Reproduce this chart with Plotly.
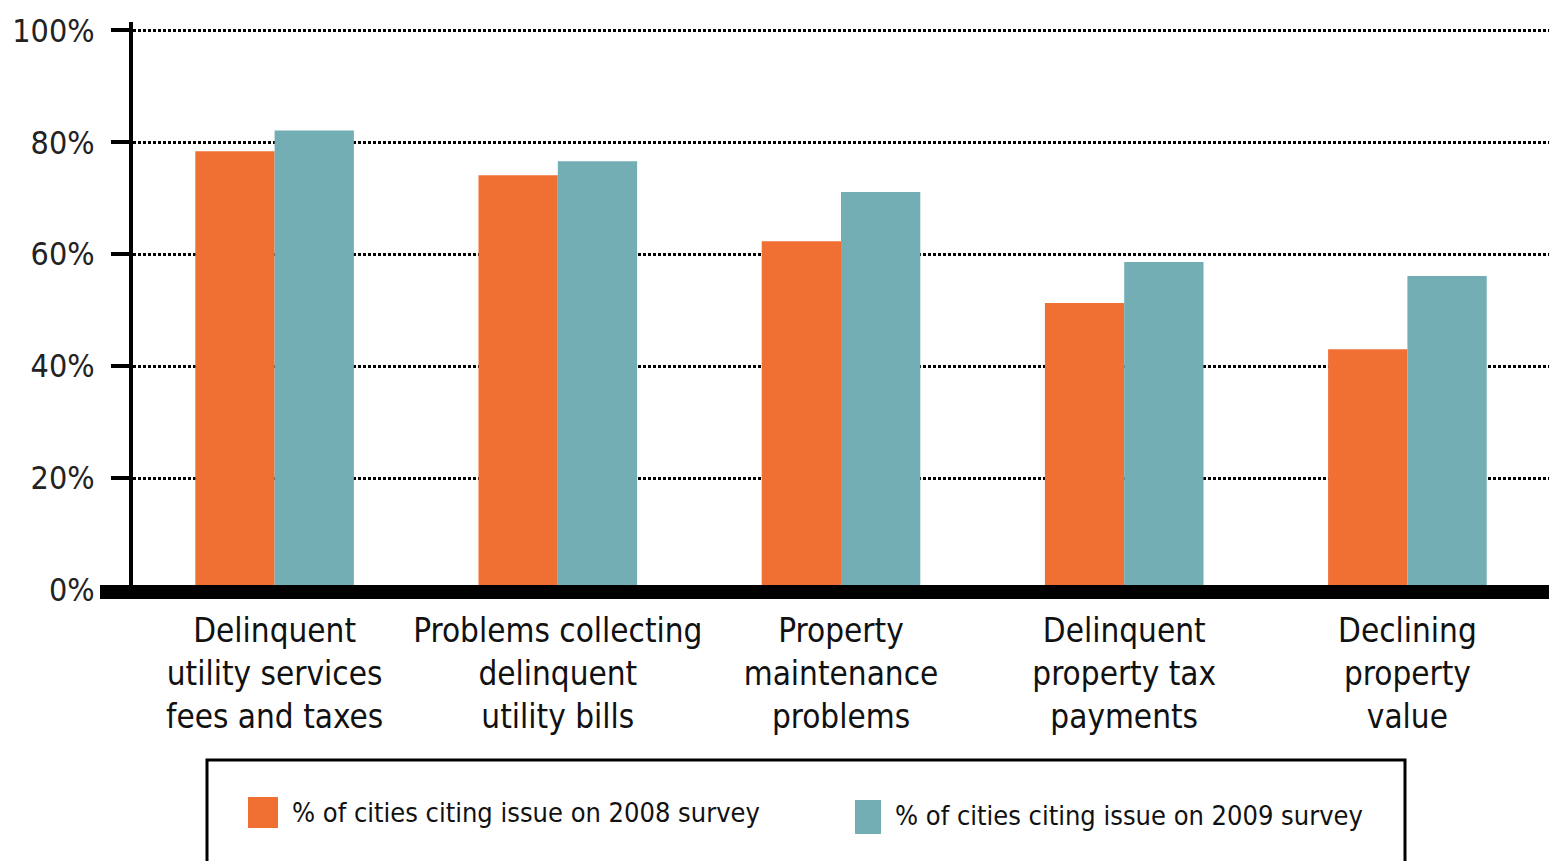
import plotly.graph_objects as go

categories = [
    "Delinquent<br>utility services<br>fees and taxes",
    "Problems collecting<br>delinquent<br>utility bills",
    "Property<br>maintenance<br>problems",
    "Delinquent<br>property tax<br>payments",
    "Declining<br>property<br>value",
]
survey_2008 = [78.4, 74.1, 62.3, 51.3, 43.0]
survey_2009 = [82.1, 76.6, 71.1, 58.6, 56.1]
series_names = ["% of cities citing issue on 2008 survey", "% of cities citing issue on 2009 survey"]
y_ticks = [0, 20, 40, 60, 80, 100]
y_tick_labels = ["0%", "20%", "40%", "60%", "80%", "100%"]

ORANGE = "#F07033"
TEAL = "#73AEB5"
FONT = "Liberation Sans Narrow, DejaVu Sans Condensed, Roboto Condensed, Arial Narrow, Liberation Sans, sans-serif"

W, H = 1549, 861
Y_TOP = 101.5
PX_PER_UNIT = 5.6
ML, MR, MB = 133, 0, 271
MT = round(H - MB - Y_TOP * PX_PER_UNIT)
PW, PH = W - ML - MR, H - MT - MB


def px_x(px):
    return (px - ML) / PW


def px_y(py):
    return (H - MB - py) / PH


fig = go.Figure()
fig.add_trace(go.Bar(x=categories, y=survey_2008, name=series_names[0],
                     marker=dict(color=ORANGE, line=dict(width=0)), showlegend=False))
fig.add_trace(go.Bar(x=categories, y=survey_2009, name=series_names[1],
                     marker=dict(color=TEAL, line=dict(width=0)), showlegend=False))

fig.update_layout(
    width=W, height=H,
    margin=dict(l=ML, r=MR, t=MT, b=MB, autoexpand=False),
    paper_bgcolor="white", plot_bgcolor="white",
    barmode="group", bargap=0.44, bargroupgap=0,
    font=dict(family=FONT, color="#111111"),
    xaxis=dict(
        showgrid=False, showline=False, zeroline=False,
        ticks="", tickfont=dict(size=33, family=FONT, color="#111111"),
        ticklabelstandoff=18,
    ),
    yaxis=dict(
        range=[0, Y_TOP], tickvals=y_ticks, ticktext=y_tick_labels,
        showgrid=True, gridcolor="black", gridwidth=3, griddash="3px,2px",
        showline=True, linecolor="black", linewidth=4,
        ticks="outside", ticklen=18, tickwidth=4, tickcolor="black",
        tickfont=dict(size=32, family=FONT, color="#222222"),
        ticklabelstandoff=10, zeroline=False,
    ),
)

# thick baseline
fig.add_shape(type="line", xref="paper", yref="paper",
              x0=px_x(100), x1=1.02, y0=px_y(592), y1=px_y(592),
              line=dict(color="black", width=14), layer="above")

# legend box
fig.add_shape(type="rect", xref="paper", yref="paper",
              x0=px_x(207), x1=px_x(1405), y0=px_y(760), y1=px_y(875),
              line=dict(color="black", width=3), fillcolor="rgba(0,0,0,0)")
legend_items = [(series_names[0], ORANGE, 248, 278, 797, 828, 290, 812),
                (series_names[1], TEAL, 855, 881, 800, 834, 893, 815)]
for name, col, x0, x1, y0, y1, tx, ty in legend_items:
    fig.add_shape(type="rect", xref="paper", yref="paper",
                  x0=px_x(x0), x1=px_x(x1), y0=px_y(y1), y1=px_y(y0),
                  line=dict(width=0), fillcolor=col)
    fig.add_annotation(xref="paper", yref="paper", x=px_x(tx), y=px_y(ty),
                       text=name, showarrow=False, xanchor="left", yanchor="middle",
                       font=dict(size=27, family=FONT, color="#111111"))

fig.write_html("out.html",
               config={"displayModeBar": False},
               post_script="document.body.style.margin='0';document.body.style.overflow='hidden';")
